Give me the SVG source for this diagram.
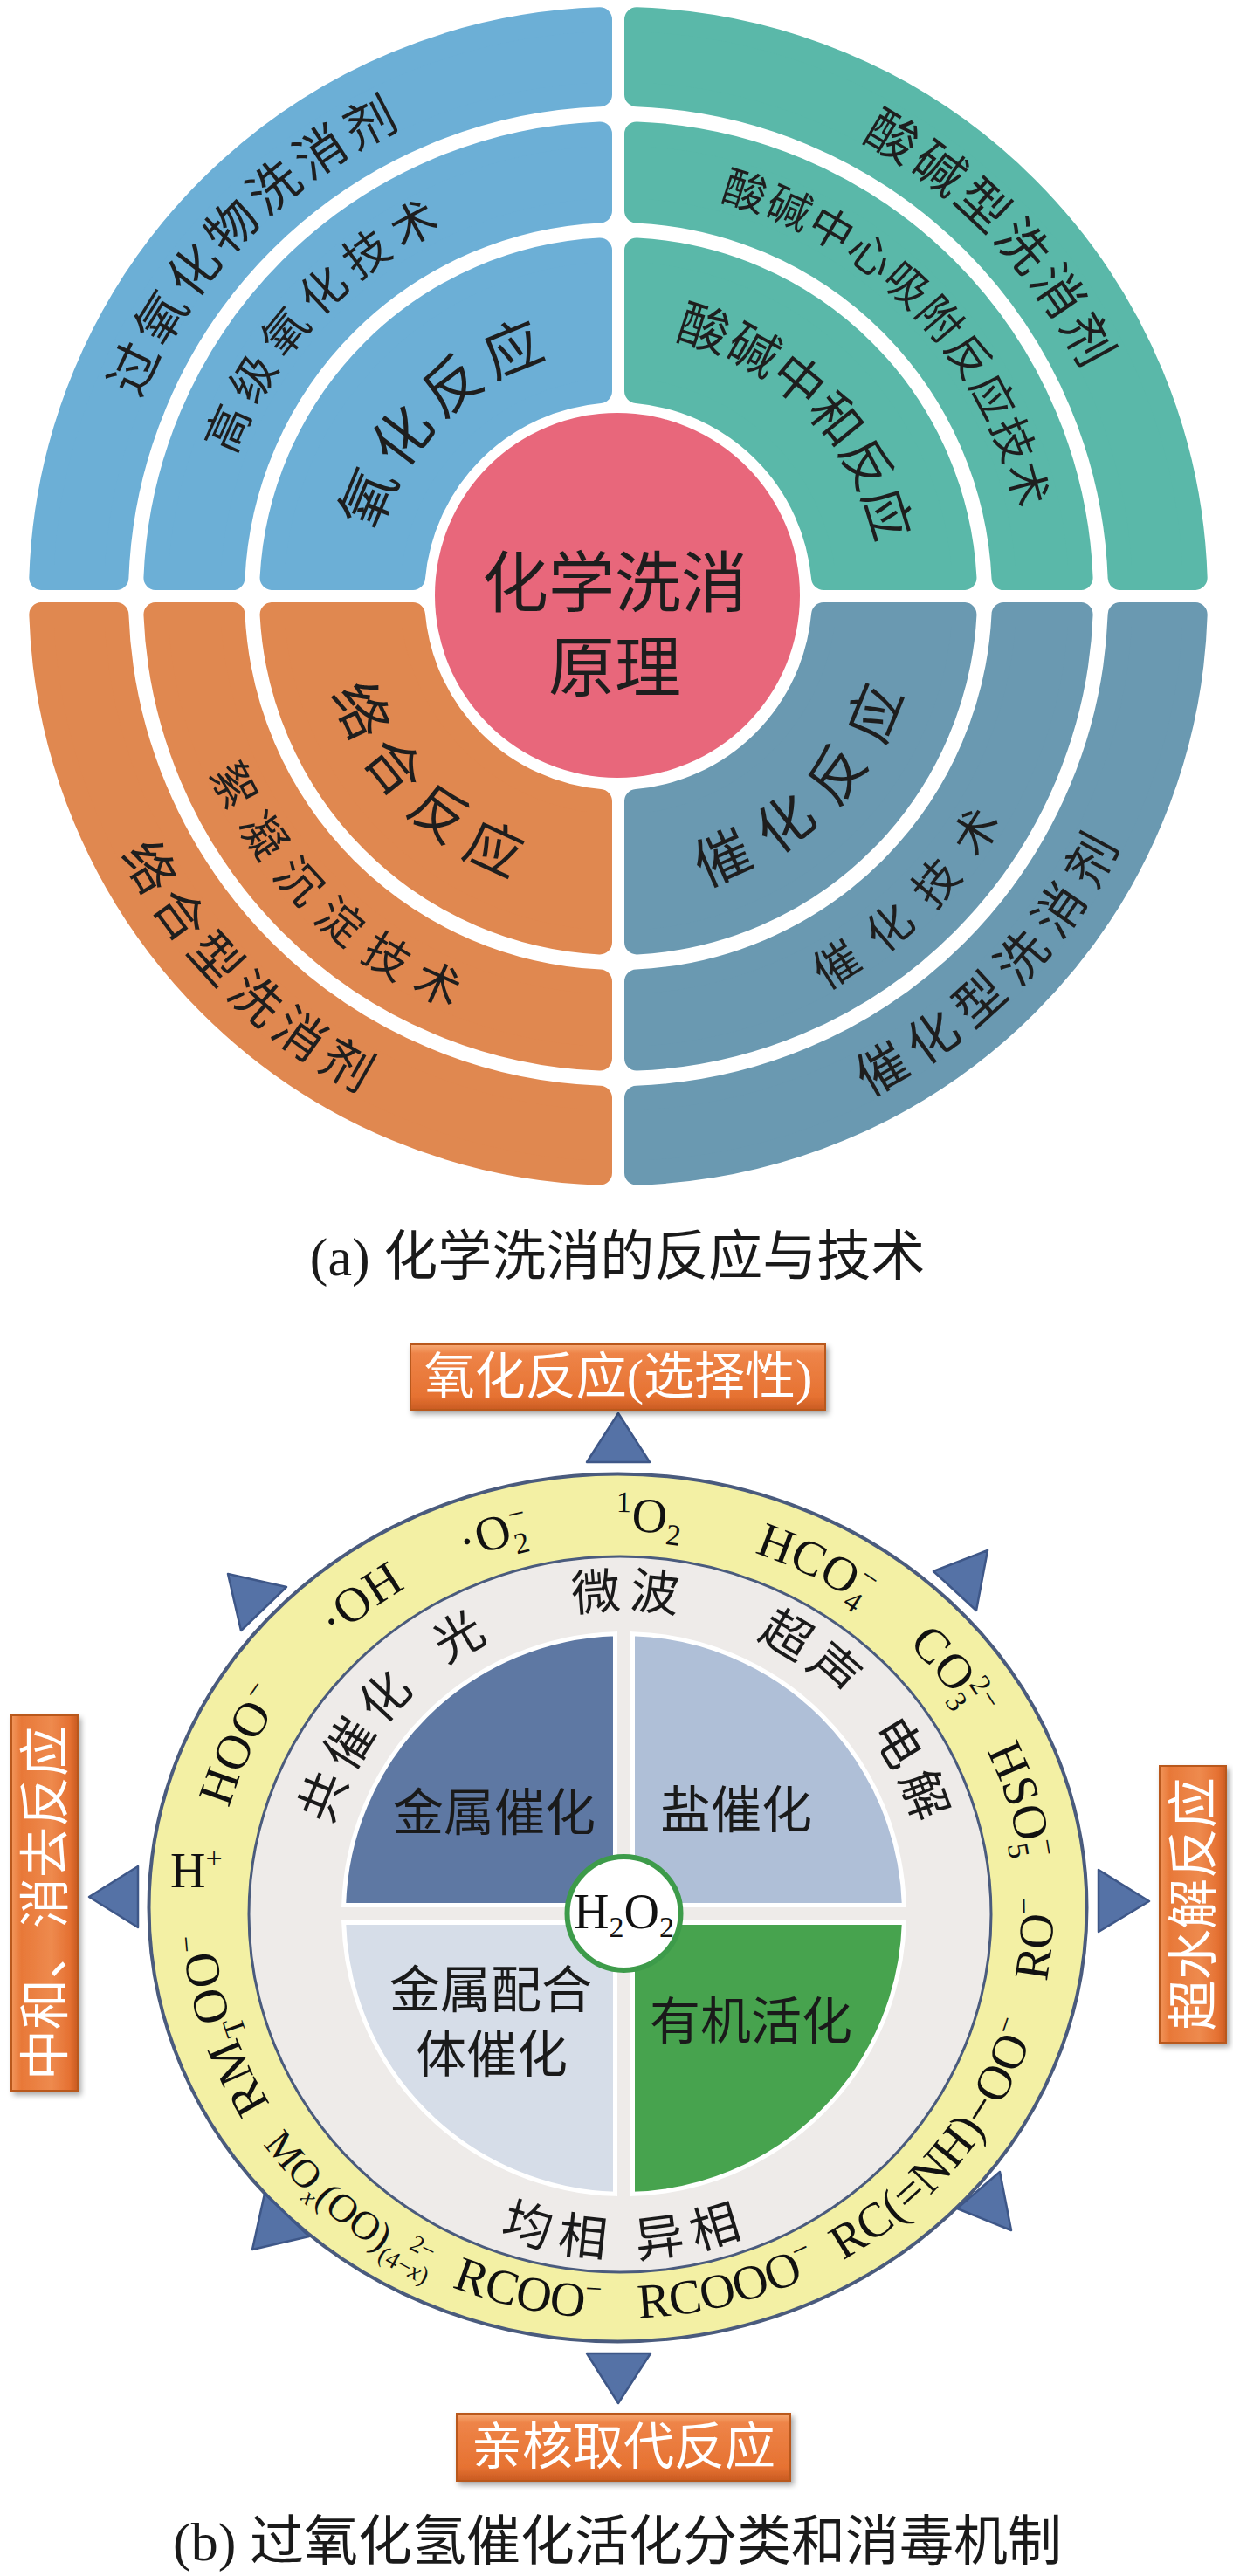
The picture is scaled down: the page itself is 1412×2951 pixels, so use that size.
<svg xmlns="http://www.w3.org/2000/svg" width="1412" height="2951" viewBox="0 0 1412 2951">
<style>
.cjk{font-family:"Noto Sans CJK SC","Noto Sans",sans-serif;fill:#1e1e1e}
.band{stroke-width:28;stroke-linejoin:round}
.tl{fill:#6CAFD6;stroke:#6CAFD6}
.tr{fill:#5AB8A9;stroke:#5AB8A9}
.bl{fill:#E08850;stroke:#E08850}
.br{fill:#6A99B1;stroke:#6A99B1}
.sp{font-family:"Liberation Serif","Times New Roman",serif;font-size:56px;fill:#111}
.sb{font-size:34px}
.lbl{font-family:"Noto Sans CJK SC",sans-serif;font-size:58px;fill:#1a1a1a}
.gl{font-family:"Noto Sans CJK SC",sans-serif;font-size:56px;fill:#1a1a1a;letter-spacing:8px}
.tri{fill:#5572A6;stroke:#3E5788;stroke-width:2.5;stroke-linejoin:round}
.bx{stroke:#B9591F;stroke-width:2}
.bxt{font-family:"Liberation Serif","Noto Sans CJK SC",serif;font-size:58px;fill:#fff}
.cap{font-family:"Liberation Serif","Noto Sans CJK SC",serif;font-size:62px;fill:#1a1a1a}
.quad{stroke:#fff;stroke-width:5}
</style>
<defs>
<path id="bO" d="M-21,-660.67A661,661 0 0 0 -660.67,-21L-574.62,-21A575,575 0 0 1 -21,-574.62Z"/>
<path id="bM" d="M-21,-529.58A530,530 0 0 0 -529.58,-21L-441.5,-21A442,442 0 0 1 -21,-441.5Z"/>
<path id="bI" d="M-21,-396.44A397,397 0 0 0 -396.44,-21L-235.06,-21A236,236 0 0 1 -21,-235.06Z"/>
<path id="a594" d="M116,683A592,592 0 0 1 1300,683"/>
<path id="a468" d="M240,683A468,468 0 0 1 1176,683"/>
<path id="a284" d="M424,683A284,284 0 0 1 992,683"/>
<path id="a301" d="M407,683A301,301 0 0 1 1009,683"/>
<path id="b345" d="M362.5,683A345.5,345.5 0 0 0 1053.5,683"/>
<path id="b507" d="M199,683A509,509 0 0 0 1217,683"/>
<path id="b640" d="M67,683A641,641 0 0 0 1349,683"/>
<path id="qd" d="M-10,-10L-10,-320.84A321,321 0 0 0 -320.84,-10Z"/>
<path id="eT" d="M709,2624A464,435 0 0 1 245,2189A464,435 0 0 1 709,1754A464,435 0 0 1 1173,2189A464,435 0 0 1 709,2624"/>
<path id="eB" d="M709,1722A497,467 0 0 0 212,2189A497,467 0 0 0 709,2656A497,467 0 0 0 1206,2189A497,467 0 0 0 709,1722"/>
<path id="gT" d="M364.5,2192.5A350,350 0 0 1 1064.5,2192.5"/>
<path id="gB" d="M321.5,2192.5A393,393 0 0 0 1107.5,2192.5"/>
<linearGradient id="gH" x1="0" y1="0" x2="0" y2="1">
<stop offset="0" stop-color="#F7AC78"/><stop offset="0.14" stop-color="#EE8448"/><stop offset="0.8" stop-color="#E67232"/><stop offset="1" stop-color="#C95B22"/>
</linearGradient>
<linearGradient id="gV" x1="0" y1="0" x2="1" y2="0">
<stop offset="0" stop-color="#F2975C"/><stop offset="0.15" stop-color="#E87838"/><stop offset="0.6" stop-color="#EE8A4E"/><stop offset="0.88" stop-color="#E57132"/><stop offset="1" stop-color="#C95B22"/>
</linearGradient>
<filter id="sh" x="-15%" y="-15%" width="135%" height="140%"><feDropShadow dx="3" dy="4" stdDeviation="3" flood-color="#000" flood-opacity="0.35"/></filter>
</defs>
<rect width="1412" height="2951" fill="#fff"/>

<!-- Part (a) -->
<g id="a-oxidation" class="cjk">
<use href="#bO" class="band tl" transform="translate(708,683)"/>
<use href="#bM" class="band tl" transform="translate(708,683)"/>
<use href="#bI" class="band tl" transform="translate(708,683)"/>
<text font-size="58" letter-spacing="6"><textPath href="#a594" startOffset="455" text-anchor="middle">过氧化物洗消剂</textPath></text>
<text font-size="52" letter-spacing="10"><textPath href="#a468" startOffset="350" text-anchor="middle">高级氧化技术</textPath></text>
<text font-size="66" letter-spacing="9"><textPath href="#a284" startOffset="223" text-anchor="middle">氧化反应</textPath></text>
</g>
<g id="a-acidbase" class="cjk">
<use href="#bO" class="band tr" transform="translate(708,683) scale(-1,1)"/>
<use href="#bM" class="band tr" transform="translate(708,683) scale(-1,1)"/>
<use href="#bI" class="band tr" transform="translate(708,683) scale(-1,1)"/>
<text font-size="58" letter-spacing="5"><textPath href="#a594" startOffset="1408" text-anchor="middle">酸碱型洗消剂</textPath></text>
<text font-size="50" letter-spacing="2"><textPath href="#a468" startOffset="1112" text-anchor="middle">酸碱中心吸附反应技术</textPath></text>
<text font-size="58" letter-spacing="0"><textPath href="#a301" startOffset="711" text-anchor="middle">酸碱中和反应</textPath></text>
</g>
<g id="a-complex" class="cjk">
<use href="#bO" class="band bl" transform="translate(708,683) scale(1,-1)"/>
<use href="#bM" class="band bl" transform="translate(708,683) scale(1,-1)"/>
<use href="#bI" class="band bl" transform="translate(708,683) scale(1,-1)"/>
<text font-size="58" letter-spacing="9"><textPath href="#b640" startOffset="508" text-anchor="middle">络合型洗消剂</textPath></text>
<text font-size="52" letter-spacing="17"><textPath href="#b507" startOffset="414" text-anchor="middle">絮凝沉淀技术</textPath></text>
<text font-size="64" letter-spacing="16"><textPath href="#b345" startOffset="273" text-anchor="middle">络合反应</textPath></text>
</g>
<g id="a-catalysis" class="cjk">
<use href="#bO" class="band br" transform="translate(708,683) scale(-1,-1)"/>
<use href="#bM" class="band br" transform="translate(708,683) scale(-1,-1)"/>
<use href="#bI" class="band br" transform="translate(708,683) scale(-1,-1)"/>
<text font-size="58" letter-spacing="13"><textPath href="#b640" startOffset="1517" text-anchor="middle">催化型洗消剂</textPath></text>
<text font-size="52" letter-spacing="25"><textPath href="#b507" startOffset="1200" text-anchor="middle">催化技术</textPath></text>
<text font-size="64" letter-spacing="24"><textPath href="#b345" startOffset="818" text-anchor="middle">催化反应</textPath></text>
</g>
<g id="a-center" class="cjk">
<circle cx="707" cy="682" r="209" fill="#E8677B"/>
<text x="704" y="695" font-size="76" text-anchor="middle">化学洗消</text>
<text x="704" y="792" font-size="76" text-anchor="middle">原理</text>
</g>
<text id="caption-a" class="cap" x="707" y="1461" text-anchor="middle">(a) 化学洗消的反应与技术</text>

<!-- Part (b) -->
<g id="b-ring">
<ellipse cx="707.5" cy="2185.5" rx="537" ry="497" fill="#F3F0A4" stroke="#4A5B7D" stroke-width="4"/>
<ellipse cx="710" cy="2193" rx="425" ry="410" fill="#EEEBE9" stroke="#4A5B7D" stroke-width="3"/>
</g>
<g id="q-metal"><use href="#qd" class="quad" fill="#5E78A3" transform="translate(714.5,2192.5)"/><text class="lbl" x="566" y="2097" text-anchor="middle">金属催化</text></g>
<g id="q-salt"><use href="#qd" class="quad" fill="#AFBFD7" transform="translate(714.5,2192.5) scale(-1,1)"/><text class="lbl" x="843" y="2094" text-anchor="middle">盐催化</text></g>
<g id="q-complex"><use href="#qd" class="quad" fill="#D6DDE8" transform="translate(714.5,2192.5) scale(1,-1)"/><text class="lbl" x="562" y="2300" text-anchor="middle">金属配合</text><text class="lbl" x="563" y="2374" text-anchor="middle">体催化</text></g>
<g id="q-organic"><use href="#qd" class="quad" fill="#47A34E" transform="translate(714.5,2192.5) scale(-1,-1)"/><text class="lbl" x="860" y="2336" text-anchor="middle">有机活化</text></g>
<g id="h2o2">
<circle cx="714.5" cy="2192" r="65" fill="#fff" stroke="#3D9B4A" stroke-width="6"/>
<text class="sp" x="714.5" y="2209" text-anchor="middle">H<tspan class="sb" dy="10">2</tspan><tspan dy="-10">O</tspan><tspan class="sb" dy="10">2</tspan></text>
</g>
<g id="activation-methods" class="gl">
<text><textPath href="#gT" startOffset="198" text-anchor="middle">共催化</textPath></text>
<text><textPath href="#gT" startOffset="365" text-anchor="middle">光</textPath></text>
<text><textPath href="#gT" startOffset="555" text-anchor="middle">微波</textPath></text>
<text><textPath href="#gT" startOffset="770" text-anchor="middle">超声</textPath></text>
<text><textPath href="#gT" startOffset="939" text-anchor="middle">电解</textPath></text>
<text letter-spacing="12"><textPath href="#gB" startOffset="620" text-anchor="middle">均相 异相</textPath></text>
</g>
<g id="species" class="sp">
<text><textPath href="#eT" startOffset="20.4%" text-anchor="middle">RM<tspan class="sb" dy="12">T</tspan><tspan dy="-12">OO</tspan><tspan class="sb" dy="-22">−</tspan></textPath></text>
<text><textPath href="#eT" startOffset="31.7%" text-anchor="middle">HOO<tspan class="sb" dy="-22">−</tspan></textPath></text>
<text><textPath href="#eT" startOffset="39.2%" text-anchor="middle">·OH</textPath></text>
<text><textPath href="#eT" startOffset="45.0%" text-anchor="middle">·O<tspan class="sb" dy="12">2</tspan><tspan class="sb" dx="-17" dy="-34">−</tspan></textPath></text>
<text><textPath href="#eT" startOffset="51.2%" text-anchor="middle"><tspan class="sb" dy="-22">1</tspan><tspan dy="22">O</tspan><tspan class="sb" dy="12">2</tspan></textPath></text>
<text><textPath href="#eT" startOffset="58.0%" text-anchor="middle">HCO<tspan class="sb" dy="12">4</tspan><tspan class="sb" dx="-17" dy="-34">−</tspan></textPath></text>
<text><textPath href="#eT" startOffset="64.9%" text-anchor="middle">CO<tspan class="sb" dy="12">3</tspan><tspan class="sb" dx="-17" dy="-34">2−</tspan></textPath></text>
<text><textPath href="#eT" startOffset="70.6%" text-anchor="middle">HSO<tspan class="sb" dy="12">5</tspan><tspan class="sb" dx="-17" dy="-34">−</tspan></textPath></text>
<text><textPath href="#eB" startOffset="73.9%" text-anchor="middle">RO<tspan class="sb" dy="-22">−</tspan></textPath></text>
<text><textPath href="#eB" startOffset="64.7%" text-anchor="middle">RC(=NH)−OO<tspan class="sb" dy="-22">−</tspan></textPath></text>
<text><textPath href="#eB" startOffset="54.3%" text-anchor="middle">RCOOO<tspan class="sb" dy="-22">−</tspan></textPath></text>
<text><textPath href="#eB" startOffset="46.4%" text-anchor="middle">RCOO<tspan class="sb" dy="-22">−</tspan></textPath></text>
<text font-size="46"><textPath href="#eB" startOffset="38.5%" text-anchor="middle">MO<tspan font-size="28" dy="10" font-style="italic">x</tspan><tspan dy="-10">(OO)</tspan><tspan font-size="28" dy="10">(4−<tspan font-style="italic">x</tspan>)</tspan><tspan font-size="28" dx="-35" dy="-29">2−</tspan></textPath></text>
<text x="195" y="2162">H<tspan class="sb" dy="-22">+</tspan></text>
</g>
<g id="arrows">
<polygon class="tri" points="708,1619 672,1675 744,1675"/>
<polygon class="tri" points="708,2753 672,2696 745,2696"/>
<polygon class="tri" points="102,2173 158,2138 158,2208"/>
<polygon class="tri" points="1316,2178 1258,2142 1258,2213"/>
<polygon class="tri" points="261,1803 328,1818 276,1868"/>
<polygon class="tri" points="1131,1776 1069,1800 1118,1845"/>
<polygon class="tri" points="289,2577 303,2513 354,2562"/>
<polygon class="tri" points="1158,2555 1145,2488 1096,2530"/>
</g>
<g id="box-oxidation" filter="url(#sh)">
<rect class="bx" x="470" y="1540" width="475" height="75" fill="url(#gH)"/>
<text class="bxt" x="708" y="1597" text-anchor="middle">氧化反应(选择性)</text>
</g>
<g id="box-nucleophilic" filter="url(#sh)">
<rect class="bx" x="523" y="2765" width="382" height="77" fill="url(#gH)"/>
<text class="bxt" x="714" y="2823" text-anchor="middle">亲核取代反应</text>
</g>
<g id="box-neutral" filter="url(#sh)">
<rect class="bx" x="13" y="1965" width="76" height="430" fill="url(#gV)"/>
<text class="bxt" transform="translate(51,2180) rotate(-90)" x="0" y="21" text-anchor="middle">中和、消去反应</text>
</g>
<g id="box-perhydrolysis" filter="url(#sh)">
<rect class="bx" x="1328" y="2023" width="76" height="317" fill="url(#gV)"/>
<text class="bxt" transform="translate(1366,2181) rotate(-90)" x="0" y="21" text-anchor="middle">超水解反应</text>
</g>
<text id="caption-b" class="cap" x="707" y="2933" text-anchor="middle">(b) 过氧化氢催化活化分类和消毒机制</text>
</svg>
